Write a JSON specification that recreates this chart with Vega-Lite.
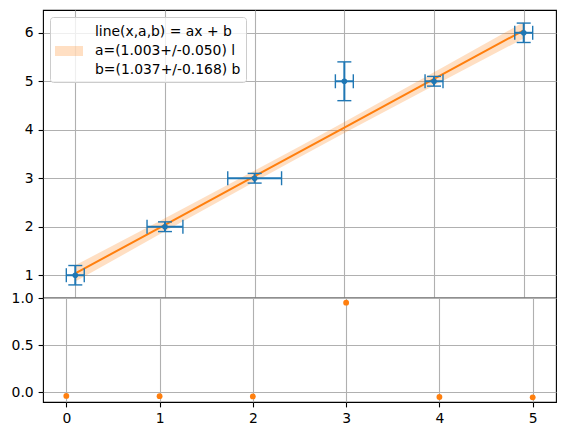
{
  "$schema": "https://vega.github.io/schema/vega-lite/v6.json",
  "padding": {"left": 5, "top": 9, "right": 8, "bottom": 5},
  "spacing": 0,
  "bounds": "flush",
  "datasets": {
    "pts": [
      {"x": 0, "y": 1, "xlo": -0.1, "xhi": 0.1, "ylo": 0.8, "yhi": 1.2},
      {"x": 1, "y": 2, "xlo": 0.8, "xhi": 1.2, "ylo": 1.9, "yhi": 2.1},
      {"x": 2, "y": 3, "xlo": 1.7, "xhi": 2.3, "ylo": 2.9, "yhi": 3.1},
      {"x": 3, "y": 5, "xlo": 2.9, "xhi": 3.1, "ylo": 4.6, "yhi": 5.4},
      {"x": 4, "y": 5, "xlo": 3.9, "xhi": 4.1, "ylo": 4.9, "yhi": 5.1},
      {"x": 5, "y": 6, "xlo": 4.9, "xhi": 5.1, "ylo": 5.8, "yhi": 6.2}
    ],
    "fit": [
      {"x": 0, "fit": 1.037, "lo": 0.869, "hi": 1.205, "label": "line(x,a,b) = ax + b|a=(1.003+/-0.050) l|b=(1.037+/-0.168) b"},
      {"x": 1, "fit": 2.040, "lo": 1.905, "hi": 2.175, "label": "line(x,a,b) = ax + b|a=(1.003+/-0.050) l|b=(1.037+/-0.168) b"},
      {"x": 2, "fit": 3.043, "lo": 2.928, "hi": 3.158, "label": "line(x,a,b) = ax + b|a=(1.003+/-0.050) l|b=(1.037+/-0.168) b"},
      {"x": 2.5, "fit": 3.545, "lo": 3.433, "hi": 3.657, "label": "line(x,a,b) = ax + b|a=(1.003+/-0.050) l|b=(1.037+/-0.168) b"},
      {"x": 3, "fit": 4.046, "lo": 3.931, "hi": 4.161, "label": "line(x,a,b) = ax + b|a=(1.003+/-0.050) l|b=(1.037+/-0.168) b"},
      {"x": 4, "fit": 5.049, "lo": 4.914, "hi": 5.184, "label": "line(x,a,b) = ax + b|a=(1.003+/-0.050) l|b=(1.037+/-0.168) b"},
      {"x": 5, "fit": 6.052, "lo": 5.884, "hi": 6.220, "label": "line(x,a,b) = ax + b|a=(1.003+/-0.050) l|b=(1.037+/-0.168) b"}
    ],
    "resid": [
      {"x": 0, "r": -0.037},
      {"x": 1, "r": -0.040},
      {"x": 2, "r": -0.043},
      {"x": 3, "r": 0.954},
      {"x": 4, "r": -0.049},
      {"x": 5, "r": -0.052}
    ]
  },
  "resolve": {"scale": {"color": "independent"}, "legend": {"color": "independent"}},
  "vconcat": [
    {
      "width": 513,
      "height": 288,
      "layer": [
        {
          "data": {"name": "fit"},
          "mark": {"type": "area", "opacity": 0.25},
          "encoding": {
            "x": {
              "field": "x", "type": "quantitative", "title": null,
              "scale": {"domain": [-0.36, 5.36], "nice": false, "zero": false},
              "axis": {"values": [0, 1, 2, 3, 4, 5], "labels": false, "ticks": false, "grid": true, "minExtent": 0, "maxExtent": 0}
            },
            "y": {
              "field": "lo", "type": "quantitative", "title": null,
              "scale": {"domain": [0.53, 6.47], "nice": false, "zero": false},
              "axis": {"values": [1, 2, 3, 4, 5, 6], "grid": true, "minExtent": 37, "maxExtent": 37}
            },
            "y2": {"field": "hi"},
            "color": {
              "field": "label", "type": "nominal",
              "scale": {"range": ["#ff7f0e"]},
              "legend": {
                "title": null,
                "orient": "top-left",
                "offset": 7,
                "padding": 5,
                "fillColor": "rgba(255,255,255,0.8)",
                "strokeColor": "#cccccc",
                "cornerRadius": 3,
                "symbolType": "M-1,1.4L1.8,1.4L1.8,2.4L-1,2.4Z",
                "symbolSize": 400,
                "symbolOpacity": 0.25,
                "symbolStrokeWidth": 0,
                "labelOffset": 20,
                "labelLimit": 0,
                "labelFontSize": 13.9,
                "labelColor": "black",
                "labelExpr": "split(datum.label, '|')",
                "encode": {
                  "labels": {"update": {"lineHeight": {"value": 19}}}
                }
              }
            }
          }
        },
        {
          "data": {"name": "fit"},
          "mark": {"type": "line", "color": "#ff7f0e", "strokeWidth": 2},
          "encoding": {
            "x": {"field": "x", "type": "quantitative", "title": null},
            "y": {"field": "fit", "type": "quantitative", "title": null}
          }
        },
        {
          "data": {"name": "pts"},
          "mark": {"type": "rule", "color": "#1f77b4", "strokeWidth": 2},
          "encoding": {
            "x": {"field": "xlo", "type": "quantitative", "title": null},
            "x2": {"field": "xhi"},
            "y": {"field": "y", "type": "quantitative", "title": null}
          }
        },
        {
          "data": {"name": "pts"},
          "mark": {"type": "rule", "color": "#1f77b4", "strokeWidth": 2},
          "encoding": {
            "x": {"field": "x", "type": "quantitative", "title": null},
            "y": {"field": "ylo", "type": "quantitative", "title": null},
            "y2": {"field": "yhi"}
          }
        },
        {
          "data": {"name": "pts"},
          "mark": {"type": "tick", "orient": "vertical", "color": "#1f77b4", "size": 14, "thickness": 1.4, "opacity": 1},
          "encoding": {
            "x": {"field": "xlo", "type": "quantitative", "title": null},
            "y": {"field": "y", "type": "quantitative", "title": null}
          }
        },
        {
          "data": {"name": "pts"},
          "mark": {"type": "tick", "orient": "vertical", "color": "#1f77b4", "size": 14, "thickness": 1.4, "opacity": 1},
          "encoding": {
            "x": {"field": "xhi", "type": "quantitative", "title": null},
            "y": {"field": "y", "type": "quantitative", "title": null}
          }
        },
        {
          "data": {"name": "pts"},
          "mark": {"type": "tick", "orient": "horizontal", "color": "#1f77b4", "size": 14, "thickness": 1.4, "opacity": 1},
          "encoding": {
            "x": {"field": "x", "type": "quantitative", "title": null},
            "y": {"field": "ylo", "type": "quantitative", "title": null}
          }
        },
        {
          "data": {"name": "pts"},
          "mark": {"type": "tick", "orient": "horizontal", "color": "#1f77b4", "size": 14, "thickness": 1.4, "opacity": 1},
          "encoding": {
            "x": {"field": "x", "type": "quantitative", "title": null},
            "y": {"field": "yhi", "type": "quantitative", "title": null}
          }
        },
        {
          "data": {"name": "pts"},
          "mark": {"type": "circle", "color": "#1f77b4", "size": 32, "opacity": 1},
          "encoding": {
            "x": {"field": "x", "type": "quantitative", "title": null},
            "y": {"field": "y", "type": "quantitative", "title": null}
          }
        }
      ]
    },
    {
      "width": 513,
      "height": 104,
      "data": {"name": "resid"},
      "mark": {"type": "circle", "color": "#ff7f0e", "size": 34, "opacity": 1},
      "encoding": {
        "x": {
          "field": "x", "type": "quantitative", "title": null,
          "scale": {"domain": [-0.25, 5.25], "nice": false, "zero": false},
          "axis": {"values": [0, 1, 2, 3, 4, 5], "grid": true}
        },
        "y": {
          "field": "r", "type": "quantitative", "title": null,
          "scale": {"domain": [-0.102, 1.004], "nice": false, "zero": false},
          "axis": {"values": [0, 0.5, 1], "format": ".1f", "grid": true, "minExtent": 37, "maxExtent": 37}
        }
      }
    }
  ],
  "config": {
    "font": "DejaVu Sans",
    "view": {"stroke": "black", "strokeWidth": 1.1},
    "axis": {
      "domain": false,
      "labelFont": "DejaVu Sans",
      "labelFontSize": 13.9,
      "labelColor": "black",
      "tickColor": "black",
      "tickSize": 4.9,
      "tickWidth": 1.1,
      "labelPadding": 4.9,
      "gridColor": "#b0b0b0",
      "gridWidth": 1.1,
      "labelFlush": false,
      "labelOverlap": false
    },
    "legend": {"labelFont": "DejaVu Sans"}
  }
}
